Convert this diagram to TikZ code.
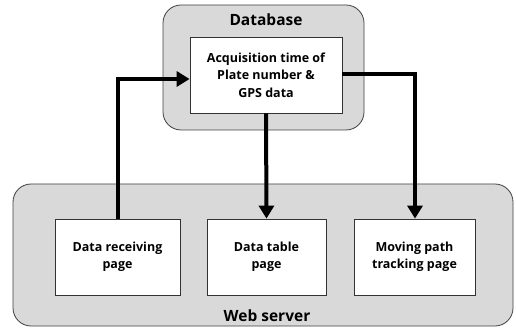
\documentclass[tikz,border=0pt]{standalone}
\usepackage{fontspec}
\setmainfont{Open Sans}
\usetikzlibrary{arrows.meta}
\begin{document}
\begin{tikzpicture}[x=1pt,y=-1pt,
  group/.style={draw=black!75,fill=black!15,rounded corners=18pt,line width=0.8pt},
  inbox/.style={draw=black!80,fill=white,line width=0.8pt,align=center,font=\bfseries\fontsize{12.5}{17.5}\selectfont},
  title/.style={font=\bfseries\fontsize{15.5}{17}\selectfont},
  conn/.style={line width=4pt,-{Triangle[length=13pt,width=15pt]}}]
\useasboundingbox (0,0) rectangle (516,336);
% groups
\draw[group] (163,5) rectangle (364,130);
\node[title] (dbl) at (266,20) {Database};
\draw[group] (13,184) rectangle (513,326);
\node[title] (wsl) at (267,316) {Web server};
% inner boxes
\node[inbox,minimum width=152pt,minimum height=76pt] (db) at (266,75) {Acquisition time of\\Plate number \&\\GPS data};
\node[inbox,minimum width=125pt,minimum height=76pt] (p1) at (117.5,257) {Data receiving\\page};
\node[inbox,minimum width=119pt,minimum height=76pt] (p2) at (266.5,257) {Data table\\page};
\node[inbox,minimum width=121pt,minimum height=76pt] (p3) at (414.5,257) {Moving path\\tracking page};
% connectors
\coordinate (c1) at (118,79);
\coordinate (c2) at (415,74);
\draw[conn] (p1.north -| c1) -- (c1) -- (db.west |- c1);
\draw[conn] (db.south) -- (p2.north);
\draw[conn] (db.east |- c2) -- (c2) -- (p3.north -| c2);
\end{tikzpicture}
\end{document}
